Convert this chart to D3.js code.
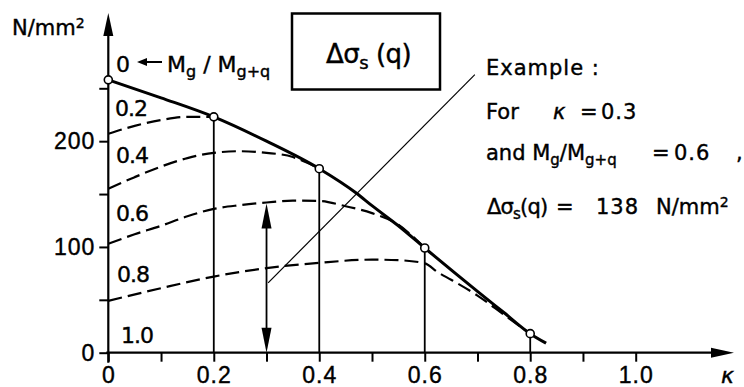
<!DOCTYPE html>
<html>
<head>
<meta charset="utf-8">
<script src="https://cdn.jsdelivr.net/npm/d3@7"></script>
<style>
  body { margin: 0; background: #fff; }
  svg { display: block; font-family: "DejaVu Sans", sans-serif; }
  svg text { stroke: #000; stroke-width: 0.4px; }
</style>
</head>
<body>
<script>
// axis ticks
const kappaTicks = [0, 0.1, 0.2, 0.3, 0.4, 0.5, 0.6, 0.7, 0.8, 0.9, 1.0];
const kappaLabels = ["0", "0.2", "0.4", "0.6", "0.8", "1.0"];
const stressTicks = [0, 50, 100, 150, 200, 250];
const stressLabels = ["0", "100", "200"];

// envelope (solid), M_g/M_g+q = 0
const envelopeK = [0, 0.1, 0.2, 0.3, 0.4, 0.47, 0.5, 0.55, 0.6, 0.7, 0.75, 0.8, 0.83];
const envelopeV = [258, 241, 223, 200, 174, 151, 139, 120, 99, 58, 38, 18, 9];

// dashed curves for M_g/M_g+q = 0.2 .. 0.8
const ratioNames = ["0.2", "0.4", "0.6", "0.8"];
const curve02K = [0, 0.05, 0.1, 0.15, 0.2];
const curve02V = [207, 214.5, 220, 223, 223];
const curve04K = [0, 0.05, 0.1, 0.15, 0.2, 0.25, 0.3, 0.35, 0.375, 0.4];
const curve04V = [155, 166, 176, 184, 189, 190.5, 189, 185, 180, 174];
const curve06K = [0, 0.05, 0.1, 0.15, 0.2, 0.25, 0.3, 0.35, 0.4, 0.45, 0.5, 0.55, 0.575, 0.6];
const curve06V = [103, 112, 120, 129, 136, 139.5, 142, 143.8, 143.5, 138.5, 132, 121, 111, 99];
const curve08K = [0, 0.1, 0.2, 0.3, 0.4, 0.5, 0.55, 0.6, 0.625, 0.65, 0.7, 0.75, 0.8];
const curve08V = [49, 61, 72, 80, 85, 88, 87.5, 84.5, 76, 69, 54, 36, 18];

// tangent points
const markerK = [0, 0.2, 0.4, 0.6, 0.8];
const markerV = [258, 223, 174, 99, 18];

// worked example: kappa = 0.3, ratio 0.6
const exampleK = 0.3;
const exampleV = 141;
const leaderK = [0.303, 0.695];
const leaderV = [66, 263];

const W = 744, H = 387;
const svg = d3.select("body").append("svg")
    .attr("width", W)
    .attr("height", H);

svg.append("rect").attr("width", W).attr("height", H).attr("fill", "#fff");

const x = d3.scaleLinear().domain([0, 1]).range([108.3, 635.7]);
const y = d3.scaleLinear().domain([0, 250]).range([352.7, 88.3]);

const line = d3.line()
    .x(d => x(d[0]))
    .y(d => y(d[1]))
    .curve(d3.curveMonotoneX);

function pairs(ks, vs) {
    return ks.map((k, i) => [k, vs[i]]);
}

function arrowHead(tx, ty, dir, len, half) {
    // dir: "up", "down", "left", "right"
    let p;
    if (dir == "up") p = [[tx, ty], [tx - half, ty + len], [tx + half, ty + len]];
    if (dir == "down") p = [[tx, ty], [tx - half, ty - len], [tx + half, ty - len]];
    if (dir == "left") p = [[tx, ty], [tx + len, ty - half], [tx + len, ty + half]];
    if (dir == "right") p = [[tx, ty], [tx - len, ty - half], [tx - len, ty + half]];
    svg.append("path")
        .attr("d", "M" + p.map(q => q.join(",")).join("L") + "Z")
        .attr("fill", "#000");
}

// x axis
const xAxis = d3.axisBottom(x)
    .tickValues(kappaTicks)
    .tickSize(9)
    .tickPadding(5)
    .tickFormat((d, i) => i % 2 == 0 ? kappaLabels[i / 2] : "");

const gx = svg.append("g")
    .attr("transform", "translate(0," + y(0) + ")")
    .call(xAxis);
gx.select(".domain").remove();
gx.selectAll(".tick line").attr("stroke", "#000").attr("stroke-width", 2);
gx.selectAll(".tick text")
    .attr("fill", "#000")
    .style("font-size", "23px")
    .style("letter-spacing", "1px");

// y axis
const yAxis = d3.axisLeft(y)
    .tickValues(stressTicks)
    .tickSize(9)
    .tickPadding(4)
    .tickFormat((d, i) => i % 2 == 0 ? stressLabels[i / 2] : "");

const gy = svg.append("g")
    .attr("transform", "translate(" + x(0) + ",0)")
    .call(yAxis);
gy.select(".domain").remove();
gy.selectAll(".tick line").attr("stroke", "#000").attr("stroke-width", 2);
gy.selectAll(".tick text")
    .attr("fill", "#000")
    .style("font-size", "23px")
    .style("letter-spacing", "1px");

// axis lines with arrows
svg.append("line")
    .attr("x1", x(0)).attr("y1", y(0) + 10)
    .attr("x2", x(0)).attr("y2", 30)
    .attr("stroke", "#000").attr("stroke-width", 2.2);
arrowHead(x(0), 13, "up", 23, 5);

svg.append("line")
    .attr("x1", x(0) - 2).attr("y1", y(0))
    .attr("x2", 716).attr("y2", y(0))
    .attr("stroke", "#000").attr("stroke-width", 2.2);
arrowHead(734, y(0), "right", 23, 5);

svg.append("text")
    .attr("x", 12).attr("y", 35)
    .style("font-size", "21px")
    .html('N/mm<tspan dy="-7" font-size="14">2</tspan>');

svg.append("text")
    .attr("x", 721).attr("y", 383)
    .style("font-size", "22px")
    .style("font-style", "italic")
    .text("κ");

// vertical lines from tangent points
svg.selectAll(".drop")
    .data(pairs(markerK, markerV).slice(1))
    .enter()
    .append("line")
    .attr("class", "drop")
    .attr("x1", d => x(d[0])).attr("x2", d => x(d[0]))
    .attr("y1", d => y(d[1])).attr("y2", y(0))
    .attr("stroke", "#000")
    .attr("stroke-width", 1.8);

// dashed curves
const dashed = [pairs(curve02K, curve02V), pairs(curve04K, curve04V),
                pairs(curve06K, curve06V), pairs(curve08K, curve08V)];
svg.selectAll(".ratio")
    .data(dashed)
    .enter()
    .append("path")
    .attr("class", "ratio")
    .attr("d", line)
    .attr("fill", "none")
    .attr("stroke", "#000")
    .attr("stroke-width", 2.2)
    .attr("stroke-dasharray", "14,6");

// envelope
svg.append("path")
    .attr("d", line(pairs(envelopeK, envelopeV)))
    .attr("fill", "none")
    .attr("stroke", "#000")
    .attr("stroke-width", 3);

// leader line
svg.append("line")
    .attr("x1", x(leaderK[0])).attr("y1", y(leaderV[0]))
    .attr("x2", x(leaderK[1])).attr("y2", y(leaderV[1]))
    .attr("stroke", "#000")
    .attr("stroke-width", 1.2);

// example double arrow
svg.append("line")
    .attr("x1", x(exampleK)).attr("x2", x(exampleK))
    .attr("y1", y(exampleV) + 20).attr("y2", y(0) - 20)
    .attr("stroke", "#000")
    .attr("stroke-width", 1.8);
arrowHead(x(exampleK), y(exampleV), "up", 25, 5);
arrowHead(x(exampleK), y(0), "down", 25, 5);

// markers
svg.selectAll(".marker")
    .data(pairs(markerK, markerV))
    .enter()
    .append("circle")
    .attr("class", "marker")
    .attr("cx", d => x(d[0]))
    .attr("cy", d => y(d[1]))
    .attr("r", 4)
    .attr("fill", "#fff")
    .attr("stroke", "#000")
    .attr("stroke-width", 1.6);

// curve labels
const labelPos = [[115, 116], [116, 163], [116, 221], [117, 282], [121, 343]];
ratioNames.concat(["1.0"]).forEach((t, i) => {
    svg.append("text")
        .attr("x", labelPos[i][0]).attr("y", labelPos[i][1])
        .style("font-size", "22px")
        .style("letter-spacing", "-1px")
        .text(t);
});

// "0 <- Mg/Mg+q"
svg.append("text")
    .attr("x", 116).attr("y", 72)
    .style("font-size", "22px")
    .text("0");
svg.append("line")
    .attr("x1", 146).attr("y1", 62).attr("x2", 162).attr("y2", 62)
    .attr("stroke", "#000").attr("stroke-width", 2);
arrowHead(137, 62, "left", 10, 4);
svg.append("text")
    .attr("x", 167).attr("y", 72)
    .style("font-size", "22px")
    .html('M<tspan dy="5" font-size="16">g</tspan><tspan dy="-5"> / M</tspan><tspan dy="5" font-size="16">g+q</tspan>');

// title box
svg.append("rect")
    .attr("x", 292).attr("y", 13.5)
    .attr("width", 148).attr("height", 76)
    .attr("fill", "none")
    .attr("stroke", "#000")
    .attr("stroke-width", 2.5);
svg.append("text")
    .attr("x", 326).attr("y", 63)
    .style("font-size", "26px")
    .style("letter-spacing", "-0.5px")
    .html('Δσ<tspan dy="6" font-size="18">s</tspan><tspan dy="-6"> (q)</tspan>');

// example text
const ex = svg.append("g").style("font-size", "21px");
ex.append("text").attr("x", 486).attr("y", 75)
    .style("letter-spacing", "1px")
    .text("Example :");
ex.append("text").attr("x", 486).attr("y", 119).text("For");
ex.append("text").attr("x", 553).attr("y", 119).style("font-style", "italic").text("κ");
ex.append("text").attr("x", 580).attr("y", 119).text("=");
ex.append("text").attr("x", 601).attr("y", 119).style("letter-spacing", "1px").text("0.3");
ex.append("text").attr("x", 486).attr("y", 160)
    .html('and M<tspan dy="5" font-size="15">g</tspan><tspan dy="-5">/M</tspan><tspan dy="5" font-size="15">g+q</tspan>');
ex.append("text").attr("x", 652).attr("y", 160).text("=");
ex.append("text").attr("x", 674).attr("y", 160).style("letter-spacing", "1px").text("0.6");
ex.append("text").attr("x", 736).attr("y", 160).text(",");
ex.append("text").attr("x", 487).attr("y", 214)
    .style("letter-spacing", "-0.8px")
    .html('Δσ<tspan dy="5" font-size="15">s</tspan><tspan dy="-5">(q)</tspan>');
ex.append("text").attr("x", 556).attr("y", 214).text("=");
ex.append("text").attr("x", 596).attr("y", 214).style("letter-spacing", "1px").text("138");
ex.append("text").attr("x", 656).attr("y", 214)
    .html('N/mm<tspan dy="-7" font-size="14">2</tspan>');
</script>
</body>
</html>
